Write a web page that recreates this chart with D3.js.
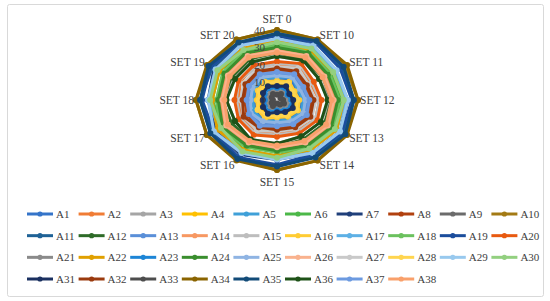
<!DOCTYPE html>
<html>
<head>
<meta charset="utf-8">
<script src="https://cdn.jsdelivr.net/npm/d3@7"></script>
<style>
  html, body { margin: 0; padding: 0; background: #fff; }
  svg { display: block; }
  text { font-family: "Liberation Serif", serif; fill: #404040; }
</style>
</head>
<body>
<div id="chart"></div>
<script>
var categories = ['SET 0', 'SET 10', 'SET 11', 'SET 12', 'SET 13', 'SET 14',
  'SET 15', 'SET 16', 'SET 17', 'SET 18', 'SET 19', 'SET 20'];

var tickValues = [0, 10, 20, 30, 40];

var seriesNames = ['A1', 'A2', 'A3', 'A4', 'A5', 'A6', 'A7', 'A8', 'A9', 'A10',
  'A11', 'A12', 'A13', 'A14', 'A15', 'A16', 'A17', 'A18', 'A19', 'A20',
  'A21', 'A22', 'A23', 'A24', 'A25', 'A26', 'A27', 'A28', 'A29', 'A30',
  'A31', 'A32', 'A33', 'A34', 'A35', 'A36', 'A37', 'A38'];

var seriesColors = ['#3574c9', '#f07c35', '#a5a5a5', '#ffc000', '#3fa0d8', '#4cb848',
  '#1f3f7a', '#b1410f', '#6b6b6b', '#a37a14', '#1f6296', '#2e6b28',
  '#5a8fd8', '#f79862', '#bdbdbd', '#ffcc33', '#5db0e5', '#6bc15e',
  '#1b4d9c', '#e85a10', '#8a8a8a', '#e0a000', '#1d85d6', '#3a8e2e',
  '#8fb4e3', '#f9b28e', '#c9c9c9', '#ffd54f', '#98c9ee', '#93d080',
  '#1a3060', '#9a3a0e', '#4d4d4d', '#8a6400', '#124b78', '#1e5218',
  '#6c9ae0', '#f9a06b'];

// one row per series, one value per category (SET 0, SET 10 ... SET 20)
var seriesValues = [
  [12, 14, 11, 12, 13, 12, 11, 13, 12, 11, 13, 12], // A1
  [20, 22, 19, 21, 22, 20, 19, 21, 20, 19, 21, 22], // A2
  [25, 26, 24, 26, 25, 24, 25, 26, 24, 25, 26, 25], // A3
  [9, 10, 8, 9, 10, 9, 8, 9, 10, 8, 9, 10],         // A4
  [13, 15, 12, 13, 14, 13, 12, 14, 13, 12, 13, 14], // A5
  [32, 33, 31, 32, 32, 31, 32, 33, 31, 32, 33, 32], // A6
  [37, 36, 33, 35, 36, 35, 34, 36, 35, 34, 36, 37], // A7
  [17, 18, 16, 17, 18, 17, 16, 18, 17, 16, 17, 18], // A8
  [4, 5, 3, 4, 4, 3, 4, 5, 3, 4, 5, 4],             // A9
  [40, 40, 39, 40, 39, 40, 40, 39, 40, 40, 39, 40], // A10
  [38, 39, 37, 38, 38, 37, 38, 38, 37, 38, 37, 38], // A11
  [27, 27, 26, 27, 27, 26, 27, 27, 26, 27, 26, 27], // A12
  [15, 16, 14, 15, 16, 15, 14, 16, 15, 14, 15, 16], // A13
  [29, 30, 28, 29, 30, 29, 28, 29, 30, 28, 29, 30], // A14
  [21, 23, 20, 21, 22, 21, 20, 22, 21, 20, 22, 21], // A15
  [11, 12, 10, 11, 12, 11, 10, 12, 11, 10, 11, 12], // A16
  [34, 35, 33, 34, 34, 33, 34, 35, 33, 34, 35, 34], // A17
  [31, 32, 30, 31, 32, 31, 30, 31, 32, 30, 31, 32], // A18
  [37, 38, 36, 37, 37, 36, 37, 38, 36, 37, 38, 37], // A19
  [22, 24, 21, 22, 23, 22, 21, 23, 22, 21, 22, 23], // A20
  [5, 6, 4, 5, 6, 5, 4, 6, 5, 4, 5, 6],             // A21
  [34, 33, 32, 33, 34, 33, 32, 33, 34, 32, 33, 34], // A22
  [7, 8, 6, 7, 8, 7, 6, 8, 7, 6, 7, 8],             // A23
  [30, 31, 29, 30, 31, 30, 29, 30, 31, 29, 30, 31], // A24
  [14, 15, 13, 14, 15, 14, 13, 14, 15, 13, 14, 15], // A25
  [28, 29, 27, 28, 29, 28, 27, 28, 29, 27, 28, 29], // A26
  [19, 21, 18, 19, 20, 19, 18, 20, 19, 18, 19, 20], // A27
  [10, 11, 9, 10, 11, 10, 9, 10, 11, 9, 10, 11],    // A28
  [35, 36, 34, 35, 36, 35, 34, 35, 36, 34, 35, 36], // A29
  [33, 34, 32, 33, 33, 32, 33, 34, 32, 33, 34, 33], // A30
  [8, 9, 7, 8, 9, 8, 7, 9, 8, 7, 8, 9],             // A31
  [18, 19, 17, 18, 19, 18, 17, 18, 19, 17, 18, 19], // A32
  [3, 4, 2, 3, 4, 3, 2, 4, 3, 2, 3, 4],             // A33
  [40, 40, 40, 40, 40, 40, 40, 40, 40, 40, 40, 40], // A34
  [38, 39, 38, 38, 39, 38, 38, 39, 38, 38, 39, 38], // A35
  [25, 26, 24, 25, 25, 24, 25, 26, 24, 25, 24, 25], // A36
  [16, 17, 15, 16, 17, 16, 15, 17, 16, 15, 16, 17], // A37
  [27, 28, 26, 27, 28, 27, 26, 27, 28, 26, 27, 28]  // A38
];

var width = 550;
var height = 301;
var cx = 277;
var cy = 100;

var svg = d3.select('#chart')
  .append('svg')
  .attr('width', width)
  .attr('height', height);

// chart area frame
svg.append('rect')
  .attr('x', 7.5)
  .attr('y', 4.5)
  .attr('width', 536)
  .attr('height', 292)
  .attr('rx', 2)
  .attr('fill', '#fff')
  .attr('stroke', '#d9d9d9');

// the source image is stretched sideways, so x and y radii differ
var rx = d3.scaleLinear().domain([0, 40]).range([0, 81]);
var ry = d3.scaleLinear().domain([0, 40]).range([0, 70]);
var angle = d3.scaleLinear().domain([0, categories.length]).range([0, 2 * Math.PI]);

function px(v, i) {
  return cx + rx(v) * Math.sin(angle(i));
}
function py(v, i) {
  return cy - ry(v) * Math.cos(angle(i));
}

var grid = svg.append('g').attr('class', 'grid');

grid.selectAll('.ring')
  .data(tickValues.slice(1))
  .enter()
  .append('polygon')
  .attr('class', 'ring')
  .attr('points', function (t) {
    return categories.map(function (c, i) { return px(t, i) + ',' + py(t, i); }).join(' ');
  })
  .attr('fill', 'none')
  .attr('stroke', '#d9d9d9')
  .attr('stroke-width', 1);

grid.selectAll('.spoke')
  .data(categories)
  .enter()
  .append('line')
  .attr('class', 'spoke')
  .attr('x1', cx)
  .attr('y1', cy)
  .attr('x2', function (c, i) { return px(40, i); })
  .attr('y2', function (c, i) { return py(40, i); })
  .attr('stroke', '#d9d9d9')
  .attr('stroke-width', 1);

// series, each line then its markers, in order
var line = d3.line()
  .x(function (d) { return px(d.v, d.i); })
  .y(function (d) { return py(d.v, d.i); })
  .curve(d3.curveLinearClosed);

var series = svg.selectAll('.series')
  .data(seriesValues)
  .enter()
  .append('g')
  .attr('class', 'series');

series.append('path')
  .attr('d', function (vals) {
    return line(vals.map(function (v, i) { return { v: v, i: i }; }));
  })
  .attr('fill', 'none')
  .attr('stroke', function (vals, k) { return seriesColors[k]; })
  .attr('stroke-width', 3)
  .attr('stroke-linejoin', 'round');

series.each(function (vals, k) {
  d3.select(this).selectAll('circle')
    .data(vals)
    .enter()
    .append('circle')
    .attr('cx', function (v, i) { return px(v, i); })
    .attr('cy', function (v, i) { return py(v, i); })
    .attr('r', 3)
    .attr('fill', seriesColors[k]);
});

// value axis labels
svg.selectAll('.tick-label')
  .data(tickValues)
  .enter()
  .append('text')
  .attr('class', 'tick-label')
  .attr('x', cx - 12)
  .attr('y', function (t) { return cy - ry(t); })
  .attr('dy', '0.35em')
  .attr('text-anchor', 'end')
  .style('font-size', '11px')
  .text(function (t) { return t; });

// category labels
svg.selectAll('.cat-label')
  .data(categories)
  .enter()
  .append('text')
  .attr('class', 'cat-label')
  .attr('x', function (c, i) {
    var s = Math.sin(angle(i));
    return px(40, i) + (Math.abs(s) < 0.01 ? 0 : (s > 0 ? 2 : -2));
  })
  .attr('y', function (c, i) {
    var s = Math.sin(angle(i));
    var k = Math.abs(s) < 0.01 ? 11.5 : 5.5;
    return py(40, i) - Math.cos(angle(i)) * k;
  })
  .attr('dy', '0.35em')
  .attr('text-anchor', function (c, i) {
    var s = Math.sin(angle(i));
    if (Math.abs(s) < 0.01) return 'middle';
    return s > 0 ? 'start' : 'end';
  })
  .style('font-size', '11.5px')
  .text(function (c) { return c; });

// legend
var legendX = d3.scaleLinear().domain([0, 10]).range([27, 543]);
var legendY = d3.scaleLinear().domain([0, 3]).range([214, 279]);

var legend = svg.selectAll('.legend-item')
  .data(seriesNames)
  .enter()
  .append('g')
  .attr('class', 'legend-item')
  .attr('transform', function (n, k) {
    return 'translate(' + legendX(k % 10) + ',' + legendY(Math.floor(k / 10)) + ')';
  });

legend.append('line')
  .attr('x1', 0)
  .attr('x2', 26)
  .attr('y1', 0)
  .attr('y2', 0)
  .attr('stroke', function (n, k) { return seriesColors[k]; })
  .attr('stroke-width', 3);

legend.append('circle')
  .attr('cx', 13)
  .attr('cy', 0)
  .attr('r', 2.6)
  .attr('fill', function (n, k) { return seriesColors[k]; });

legend.append('text')
  .attr('x', 29)
  .attr('y', 0)
  .attr('dy', '0.35em')
  .style('font-size', '11px')
  .text(function (n) { return n; });
</script>
</body>
</html>
